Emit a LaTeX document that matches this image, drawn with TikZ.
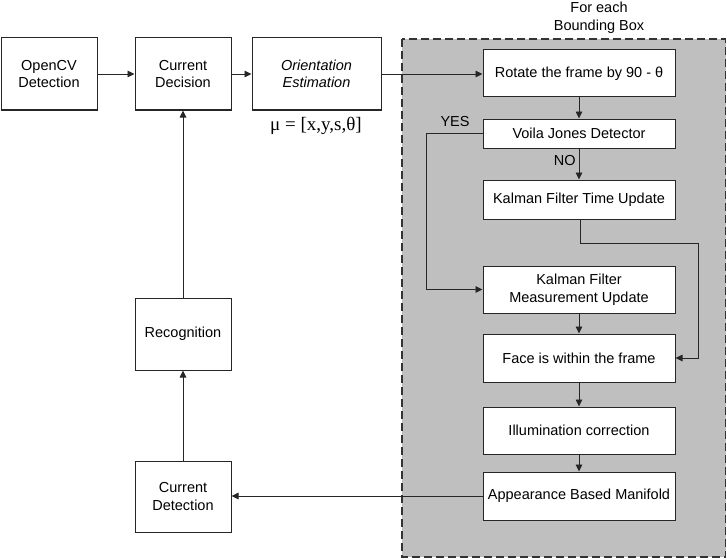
\documentclass[tikz,border=0pt]{standalone}
\usepackage{fontspec}
\setmainfont{Liberation Sans}
\newfontfamily\serifmu{Liberation Serif}
\usetikzlibrary{arrows.meta}
\begin{document}
\begin{tikzpicture}[x=1pt,y=-1pt,
  every node/.style={font=\fontsize{14.5}{17.5}\selectfont},
  box/.style={draw=black!85, line width=1pt, fill=white, align=center, inner sep=0pt},
  wbox/.style={box, minimum width=96pt, minimum height=72pt},
  gbox/.style={box, minimum width=192pt},
  conn/.style={draw=black!85, line width=0.9pt, -{Triangle[length=7pt,width=6.5pt]}},
  plain/.style={draw=black!85, line width=0.9pt}]
\useasboundingbox (0,0) rectangle (727,559);
% grouping box
\filldraw[fill=black!25, draw=black!80, line width=1.5pt, dash pattern=on 8pt off 4pt]
  (402,39) rectangle (725.5,557);
\node[align=center] (fe) at (599,18) {For each\\Bounding Box};
% left column
\node[wbox] (ocv) at (49,74) {OpenCV\\Detection};
\node[wbox] (cdec) at (183,74) {Current\\Decision};
\node[wbox, minimum width=129pt] (ori) at (316.5,74) {\itshape Orientation\\\itshape Estimation};
\node (mu) at (316,126) {\serifmu\fontsize{19}{22}\selectfont μ = [x,y,s,θ]};
\node[wbox] (rec) at (183,334) {Recognition};
\node[wbox, minimum height=71pt] (cdet) at (183,496.5) {Current\\Detection};
% right column
\node[gbox, minimum height=47pt] (rot) at (579,73.5) {Rotate the frame by 90 - θ};
\node[gbox, minimum height=29pt] (vj) at (579,133.5) {Voila Jones Detector};
\node[gbox, minimum height=39pt] (kft) at (579,199.5) {Kalman Filter Time Update};
\node[gbox, minimum height=47pt] (kfm) at (579,289.5) {Kalman Filter\\Measurement Update};
\node[gbox, minimum height=48pt] (face) at (579,358) {Face is within the frame};
\node[gbox, minimum height=47pt] (ill) at (579,430.5) {Illumination correction};
\node[gbox, minimum height=48pt] (app) at (579,496) {Appearance Based Manifold};
% connectors
\draw[conn] (ocv) -- (cdec);
\draw[conn] (cdec) -- (ori);
\draw[conn] (ori.east) -- (rot.west |- ori.east);
\draw[conn] (rot) -- (vj);
\draw[conn] (vj) -- node[pos=0.4, left, inner sep=3pt] {NO} (kft);
\coordinate (yesc) at (426,133.5);
\draw[conn] (vj.west) -- (yesc) |- (kfm.west);
\node (yes) at (455,122) {YES};
\coordinate (kfa) at (580,243);
\coordinate (kfb) at (698,243);
\draw[conn] (kft.south -| kfa) -- (kfa) -- (kfb) |- (face.east);
\draw[conn] (kfm) -- (face);
\draw[conn] (face) -- (ill);
\draw[conn] (ill) -- (app);
\draw[conn] (app.west) -- (cdet.east |- app.west);
\draw[conn] (cdet) -- (rec);
\draw[conn] (rec) -- (cdec);
\end{tikzpicture}
\end{document}
